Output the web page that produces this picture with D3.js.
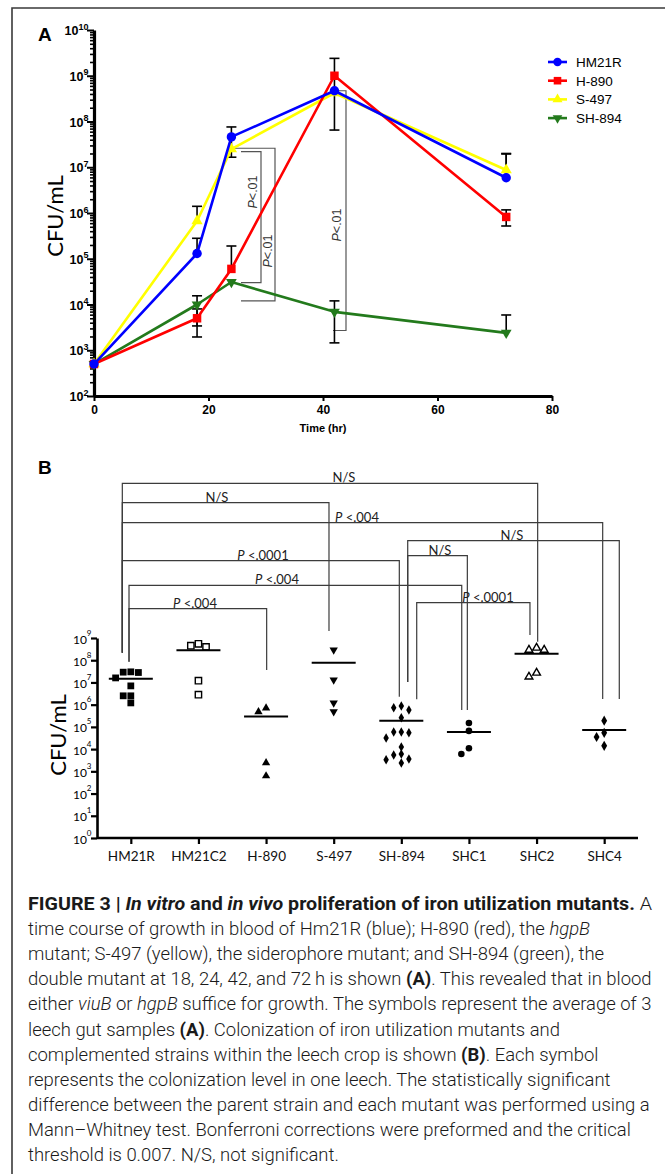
<!DOCTYPE html>
<html><head><meta charset="utf-8">
<script src="https://cdn.jsdelivr.net/npm/d3@7"></script>
<style>body{margin:0;background:#fff} svg{display:block}</style>
</head><body>
<svg id="fig" width="665" height="1174"></svg>
<script>
// ================= DATA =================
// Panel A: in vitro growth in blood (CFU/mL)
const timesA = [0, 18, 24, 42, 72];
const strainsA = ["HM21R", "H-890", "S-497", "SH-894"];
const hm21rMean = [500, 1.3e5, 4.6e7, 4.7e8, 5.9e6];
const hm21rHi   = [null, 2.8e5, 7.6e7, 2.4e9, 1.95e7];
const hm21rLo   = [null, null, 1.66e7, 6.5e7, null];
const h890Mean  = [500, 5e3, 6e4, 1e9, 8.2e5];
const h890Hi    = [null, 8e3, 1.9e5, null, 1.17e6];
const h890Lo    = [null, 1.95e3, null, null, 5.2e5];
const s497Mean  = [500, 6.7e5, 2.5e7, 4.2e8, 8.7e6];
const s497Hi    = [null, 1.4e6, null, null, 2.0e7];
const s497Lo    = [null, null, null, null, null];
const sh894Mean = [500, 1e4, 3.1e4, 6.9e3, 2.4e3];
const sh894Hi   = [null, 1.55e4, null, 1.2e4, 5.9e3];
const sh894Lo   = [null, 3.4e3, null, 1.45e3, null];
const xTicksA = [0, 20, 40, 60, 80];
const yExpA = [2, 3, 4, 5, 6, 7, 8, 9, 10];
const sigLabelA = ["P<.01", "P<.01", "P<.01"];

// Panel B: colonization in leech crop (CFU/mL), one value per leech
const catsB = ["HM21R", "HM21C2", "H-890", "S-497", "SH-894", "SHC1", "SHC2", "SHC4"];
const valsHM21R  = [3e7, 2.8e7, 2.9e7, 1.6e7, 7e6, 2.5e6, 2.5e6, 1.2e6];
const valsHM21C2 = [5.5e8, 4e8, 4.5e8, 1.2e7, 2.8e6];
const valsH890   = [4.8e5, 7e5, 2.4e3, 620];
const valsS497   = [2.9e8, 1.3e7, 1.2e6, 4.8e5];
const valsSH894  = [8.8e5, 7.2e5, 5.8e5, 2.6e5, 5.9e4, 5.4e4, 5.9e4, 3.2e4, 1.26e4, 6e3, 5.5e3, 3.6e3, 3.3e3, 2.4e3];
const valsSHC1   = [1.5e5, 6.6e4, 1.1e4, 6e3];
const valsSHC2   = [3.6e8, 2.9e8, 2.9e8, 2.7e7, 1.8e7];
const valsSHC4   = [1.9e5, 5.4e4, 3.5e4, 1.4e4];
const yExpB = [0, 1, 2, 3, 4, 5, 6, 7, 8, 9];
const bracketFrom  = ["HM21R", "HM21R", "HM21R", "SH-894", "SH-894", "HM21R", "HM21R", "SH-894", "HM21R"];
const bracketTo    = ["SHC2", "S-497", "SHC4", "SHC4", "SHC1", "SH-894", "SHC1", "SHC2", "H-890"];
const bracketLabel = ["N/S", "N/S", "P <.004", "N/S", "N/S", "P <.0001", "P <.004", "P <.0001", "P <.004"];

const captionLines = [
  [["FIGURE 3 | ", "b"], ["In vitro", "bi"], [" and ", "b"], ["in vivo", "bi"], [" proliferation of iron utilization mutants.", "b"], [" A", ""]],
  [["time course of growth in blood of Hm21R (blue); H-890 (red), the ", ""], ["hgpB", "i"]],
  [["mutant; S-497 (yellow), the siderophore mutant; and SH-894 (green), the", ""]],
  [["double mutant at 18, 24, 42, and 72\u2009h is shown ", ""], ["(A)", "b"], [". This revealed that in blood", ""]],
  [["either ", ""], ["viuB", "i"], [" or ", ""], ["hgpB", "i"], [" suffice for growth. The symbols represent the average of 3", ""]],
  [["leech gut samples ", ""], ["(A)", "b"], [". Colonization of iron utilization mutants and", ""]],
  [["complemented strains within the leech crop is shown ", ""], ["(B)", "b"], [". Each symbol", ""]],
  [["represents the colonization level in one leech. The statistically significant", ""]],
  [["difference between the parent strain and each mutant was performed using a", ""]],
  [["Mann\u2013Whitney test. Bonferroni corrections were preformed and the critical", ""]],
  [["threshold is 0.007. N/S, not significant.", ""]]
];

// ================= DRAWING =================
const svg = d3.select("#fig");
const lightFont = "Lato, 'Open Sans', sans-serif";
const arial = "Arial, 'Liberation Sans', sans-serif";

// figure frame
svg.append("path").attr("d", "M12,1174V8H665").attr("fill", "none").attr("stroke", "#3a3a3a").attr("stroke-width", 1.6);

// ---------- Panel A ----------
const gA = svg.append("g");
const xA = d3.scaleLinear().domain([0, 80]).range([94, 552]);
const yA = d3.scaleLog().domain([1e2, 1e10]).range([396, 30]);
const colorsA = {"HM21R": "#0000ff", "H-890": "#ff0000", "S-497": "#ffff00", "SH-894": "#237a1c"};
const seriesA = {
  "HM21R": {mean: hm21rMean, hi: hm21rHi, lo: hm21rLo, sym: d3.symbolCircle, size: 70, rot: 0},
  "H-890": {mean: h890Mean, hi: h890Hi, lo: h890Lo, sym: d3.symbolSquare, size: 72, rot: 0},
  "S-497": {mean: s497Mean, hi: s497Hi, lo: s497Lo, sym: d3.symbolTriangle, size: 55, rot: 0},
  "SH-894": {mean: sh894Mean, hi: sh894Hi, lo: sh894Lo, sym: d3.symbolTriangle, size: 50, rot: 180}
};

gA.append("text").attr("x", 38).attr("y", 41).attr("font-family", arial)
  .attr("font-weight", "bold").attr("font-size", 19).text("A");

// minor ticks
const minorA = [];
yExpA.slice(0, -1).forEach(e => { for (let k = 2; k <= 9; k++) minorA.push(k * Math.pow(10, e)); });
const yAxisMinor = d3.axisLeft(yA).tickValues(minorA).tickSize(4).tickFormat("").tickSizeOuter(0);
gA.append("g").attr("transform", "translate(94,0)").call(yAxisMinor)
  .call(g => g.select(".domain").remove())
  .call(g => g.selectAll("line").attr("stroke", "#000").attr("stroke-width", 1.6));
const yAxisA = d3.axisLeft(yA).tickValues(yExpA.map(e => Math.pow(10, e))).tickSize(7).tickFormat("").tickSizeOuter(0);
gA.append("g").attr("transform", "translate(94,0)").call(yAxisA)
  .call(g => g.select(".domain").attr("stroke", "#000").attr("stroke-width", 3.2))
  .call(g => g.selectAll("line").attr("stroke", "#000").attr("stroke-width", 2));
// y tick labels
const yLabA = gA.append("g").selectAll("text").data(yExpA).join("text")
  .attr("x", 88.5).attr("y", e => yA(Math.pow(10, e)) + 5)
  .attr("text-anchor", "end").attr("font-family", arial)
  .attr("font-weight", "bold").attr("font-size", 12.5);
yLabA.append("tspan").text("10");
yLabA.append("tspan").attr("dy", -5.5).attr("font-size", 9).text(e => e);

const xAxisA = d3.axisBottom(xA).tickValues(xTicksA).tickSize(5).tickSizeOuter(0);
gA.append("g").attr("transform", "translate(0,396)").call(xAxisA)
  .call(g => g.select(".domain").attr("stroke", "#000").attr("stroke-width", 3.2))
  .call(g => g.selectAll("line").attr("stroke", "#000").attr("stroke-width", 2))
  .call(g => g.selectAll("text").attr("font-family", arial)
    .attr("font-weight", "bold").attr("font-size", 12).attr("fill", "#000").attr("dy", "0.85em"));
gA.append("text").attr("x", xA(40)).attr("y", 432).attr("text-anchor", "middle")
  .attr("font-family", arial).attr("font-weight", "bold").attr("font-size", 11).text("Time (hr)");
gA.append("text").attr("transform", "translate(63,216) rotate(-90)").attr("text-anchor", "middle")
  .attr("font-family", lightFont).attr("font-size", 22).text("CFU/mL");

// significance brackets (panel A)
const bk = gA.append("g").attr("fill", "none").attr("stroke", "#555").attr("stroke-width", 1.2);
bk.append("path").attr("d", `M241,${yA(2.2e7)}H261V${yA(3.0e4)}H241`);
bk.append("path").attr("d", `M232,${yA(2.6e7)}H275V${yA(1.2e4)}H241`);
bk.append("path").attr("d", `M333,${yA(4.7e8)}H346V${yA(2.7e3)}H333`);
const sigPosA = [[257, 192], [272, 251], [341, 225]];
gA.append("g").selectAll("text").data(sigLabelA).join("text")
  .attr("transform", (d, i) => `translate(${sigPosA[i][0]},${sigPosA[i][1]}) rotate(-90)`)
  .attr("text-anchor", "middle").attr("font-family", arial)
  .attr("font-size", 12.5).attr("fill", "#333")
  .each(function (d) {
    d3.select(this).append("tspan").attr("font-style", "italic").text(d.slice(0, 1));
    d3.select(this).append("tspan").text(d.slice(1));
  });

// error bars
const ebar = gA.append("g").attr("stroke", "#000").attr("stroke-width", 1.6);
strainsA.forEach(s => {
  const S = seriesA[s];
  timesA.forEach((t, i) => {
    [S.hi[i], S.lo[i]].forEach(v => {
      if (v == null) return;
      ebar.append("line").attr("x1", xA(t)).attr("x2", xA(t)).attr("y1", yA(S.mean[i])).attr("y2", yA(v));
      ebar.append("line").attr("x1", xA(t) - 5).attr("x2", xA(t) + 5).attr("y1", yA(v)).attr("y2", yA(v));
    });
  });
});
// lines + markers, drawn back-to-front
["SH-894", "S-497", "H-890", "HM21R"].forEach(s => {
  const S = seriesA[s];
  const pts = timesA.map((t, i) => [t, S.mean[i]]);
  gA.append("path").datum(pts).attr("fill", "none").attr("stroke", colorsA[s]).attr("stroke-width", 2.6)
    .attr("stroke-linejoin", "round")
    .attr("d", d3.line().x(d => xA(d[0])).y(d => yA(d[1])));
  gA.append("g").selectAll("path").data(pts).join("path")
    .attr("transform", d => `translate(${xA(d[0])},${yA(d[1])}) rotate(${S.rot})`)
    .attr("d", d3.symbol(S.sym, S.size)).attr("fill", colorsA[s]);
});
// legend
const leg = gA.append("g");
strainsA.forEach((s, i) => {
  const S = seriesA[s];
  const y = 62 + i * 18.7;
  leg.append("line").attr("x1", 548).attr("x2", 567).attr("y1", y).attr("y2", y)
    .attr("stroke", colorsA[s]).attr("stroke-width", 2.6);
  leg.append("path").attr("transform", `translate(557.5,${y}) rotate(${S.rot})`)
    .attr("d", d3.symbol(S.sym, S.size * 0.8)).attr("fill", colorsA[s]);
  leg.append("text").attr("x", 576).attr("y", y + 5).attr("font-family", arial)
    .attr("font-size", 13.5).text(s);
});

// ---------- Panel B ----------
const gB = svg.append("g");
const xB = d3.scalePoint().domain(catsB).range([97, 638]).padding(0.5);
const yB = d3.scaleLog().domain([1, 1e9]).range([838, 638]);
gB.append("text").attr("x", 38).attr("y", 474).attr("font-family", arial)
  .attr("font-weight", "bold").attr("font-size", 19).text("B");

const yAxisB = d3.axisLeft(yB).tickValues(yExpB.map(e => Math.pow(10, e))).tickSize(6).tickFormat("").tickSizeOuter(0);
gB.append("g").attr("transform", "translate(97,0)").call(yAxisB)
  .call(g => g.select(".domain").attr("stroke", "#000").attr("stroke-width", 2.6))
  .call(g => g.selectAll("line").attr("stroke", "#000").attr("stroke-width", 2.2));
const yLabB = gB.append("g").selectAll("text").data(yExpB).join("text")
  .attr("x", 91.5).attr("y", e => yB(Math.pow(10, e)) + 5.5)
  .attr("text-anchor", "end").attr("font-family", lightFont).attr("font-size", 12);
yLabB.append("tspan").text("10");
yLabB.append("tspan").attr("dy", -8).attr("font-size", 8).text(e => e);

const xAxisB = d3.axisBottom(xB).tickSize(6).tickSizeOuter(0);
gB.append("g").attr("transform", "translate(0,838)").call(xAxisB)
  .call(g => g.select(".domain").attr("stroke", "#000").attr("stroke-width", 2.6).attr("d", "M97,0H638"))
  .call(g => g.selectAll("line").attr("stroke", "#000").attr("stroke-width", 2.2))
  .call(g => g.selectAll("text").attr("font-family", lightFont).attr("font-size", 13.5).attr("fill", "#111").attr("dy", "1.05em"));
gB.append("text").attr("transform", "translate(66,735) rotate(-90)").attr("text-anchor", "middle")
  .attr("font-family", lightFont).attr("font-size", 22).text("CFU/mL");

// brackets (layout: level y, end offsets and drop ends, label centre)
const bLayout = [
  {y: 483.3, d1: -8.5, d2: 1.1, e1: 652.7, e2: 641.7, lx: 344},
  {y: 502.7, d1: -8.5, d2: -4.7, e1: 652.7, e2: 631, lx: 217},
  {y: 522.7, d1: -8.5, d2: -1.5, e1: 652.7, e2: 699, lx: 357},
  {y: 540.7, d1: 6.4, d2: 15.1, e1: 682, e2: 699, lx: 512},
  {y: 555.7, d1: 6.4, d2: -1.6, e1: 682, e2: 710, lx: 440},
  {y: 560.7, d1: -8.5, d2: -2, e1: 652.7, e2: 696.7, lx: 263},
  {y: 585.3, d1: -1.8, d2: -7.2, e1: 661.7, e2: 710, lx: 277},
  {y: 602.7, d1: 15.4, d2: -6.6, e1: 699.3, e2: 635, lx: 488},
  {y: 608.7, d1: -1.8, d2: 0.6, e1: 661.7, e2: 670, lx: 195}
];
const bg = gB.append("g");
bracketLabel.forEach((lab, i) => {
  const L = bLayout[i];
  const x1 = xB(bracketFrom[i]) + L.d1, x2 = xB(bracketTo[i]) + L.d2;
  bg.append("path").attr("d", `M${x1},${L.e1}V${L.y}H${x2}V${L.e2}`)
    .attr("fill", "none").attr("stroke", "#3c3c3c").attr("stroke-width", 1.2);
  const t = bg.append("text").attr("x", L.lx).attr("y", L.y - 1).attr("text-anchor", "middle")
    .attr("font-family", lightFont).attr("font-size", 13).attr("fill", "#222");
  if (lab.startsWith("P")) {
    t.append("tspan").attr("font-style", "italic").text("P");
    t.append("tspan").text(lab.slice(1));
  } else t.text(lab);
});

// points
const groupsB = [
  {cat: "HM21R", vals: valsHM21R, sym: d3.symbolSquare, size: 46, fill: true, rot: 0},
  {cat: "HM21C2", vals: valsHM21C2, sym: d3.symbolSquare, size: 40, fill: false, rot: 0},
  {cat: "H-890", vals: valsH890, sym: d3.symbolTriangle, size: 30, fill: true, rot: 0},
  {cat: "S-497", vals: valsS497, sym: d3.symbolTriangle, size: 30, fill: true, rot: 180},
  {cat: "SH-894", vals: valsSH894, sym: d3.symbolDiamond, size: 26, fill: true, rot: 0},
  {cat: "SHC1", vals: valsSHC1, sym: d3.symbolCircle, size: 34, fill: true, rot: 0},
  {cat: "SHC2", vals: valsSHC2, sym: d3.symbolTriangle, size: 26, fill: false, rot: 0},
  {cat: "SHC4", vals: valsSHC4, sym: d3.symbolDiamond, size: 30, fill: true, rot: 0}
];
const dStep = 7.6;
groupsB.forEach(G => {
  const cx = xB(G.cat);
  const placed = [];
  G.vals.slice().sort((a, b) => b - a).forEach(v => {
    const py = yB(v);
    for (let k = 0; k < 20; k++) {
      const off = (k === 0 ? 0 : (k % 2 ? -1 : 1) * Math.ceil(k / 2)) * dStep;
      if (!placed.some(p => Math.abs(p.y - py) < 6.5 && Math.abs(p.x - off) < dStep - 0.5)) {
        placed.push({x: off, y: py}); break;
      }
    }
  });
  gB.append("g").selectAll("path").data(placed).join("path")
    .attr("transform", p => `translate(${cx + p.x},${p.y}) rotate(${G.rot})`)
    .attr("d", d3.symbol(G.sym, G.size))
    .attr("fill", G.fill ? "#000" : "#fff").attr("stroke", "#000").attr("stroke-width", G.fill ? 0 : 1.4);
  const m = d3.mean(G.vals);
  gB.append("line").attr("x1", cx - 22).attr("x2", cx + 22).attr("y1", yB(m)).attr("y2", yB(m))
    .attr("stroke", "#000").attr("stroke-width", 2);
});

// ---------- Caption ----------
const capFont = "Roboto, 'Liberation Sans', sans-serif";
const cap = svg.append("g").attr("font-family", capFont).attr("fill", "#1a1a1a");
const capTexts = captionLines.map((parts, i) => {
  const t = cap.append("text").attr("x", 28).attr("y", 910 + i * 25.1).attr("font-size", 17).attr("font-weight", 300);
  parts.forEach(([s, st]) => {
    const ts = t.append("tspan").text(s);
    if (st.includes("b")) ts.attr("font-weight", 700);
    if (st.includes("i")) ts.attr("font-style", "italic");
  });
  return t;
});
// fit font size so the longest regular line spans the text block width
const w4 = capTexts[3].node().getComputedTextLength();
const fs = 17 * 624 / w4;
capTexts.forEach(t => t.attr("font-size", fs));
// the bold title line is set wider in the original typeface
capTexts[0].attr("textLength", 624).attr("lengthAdjust", "spacingAndGlyphs");
</script>
</body></html>
